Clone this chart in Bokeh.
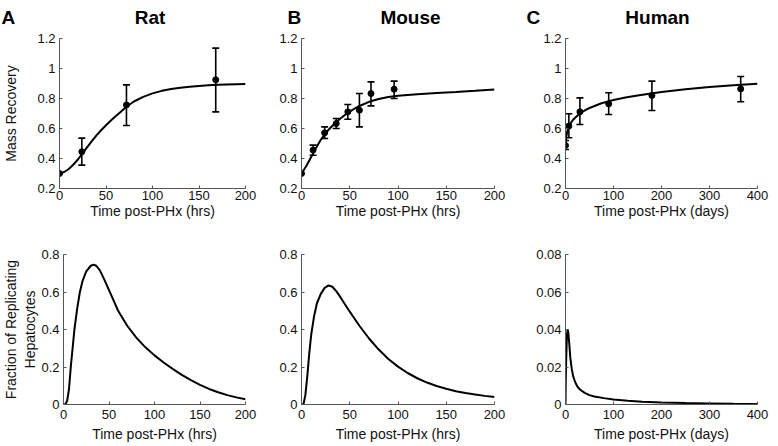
from bokeh.plotting import figure
from bokeh.layouts import column, row
from bokeh.models import Range1d, FixedTicker, Whisker, ColumnDataSource, TeeHead
from bokeh.core.properties import value
from bokeh.embed import file_html
from bokeh.resources import INLINE

# ---------------- data ----------------
# Rat: mass recovery data
rat_t = [0, 24, 72, 168]
rat_mean = [0.30, 0.445, 0.757, 0.925]
rat_low = [0.30, 0.356, 0.62, 0.711]
rat_high = [0.30, 0.536, 0.891, 1.136]
rat_fit_t = [0, 5, 10, 15, 20, 25, 30, 35, 40, 45, 50, 55, 60, 65, 72, 80, 90, 100,
             110, 120, 130, 140, 150, 160, 170, 180, 190, 200]
rat_fit_y = [0.30, 0.31, 0.33, 0.36, 0.395, 0.436, 0.478, 0.518, 0.556, 0.59, 0.622, 0.652,
             0.68, 0.707, 0.745, 0.78, 0.811, 0.834, 0.851, 0.863, 0.872, 0.879, 0.884,
             0.888, 0.891, 0.893, 0.895, 0.897]
# Rat: fraction of replicating hepatocytes
rat_rep_t = [0, 2, 4, 6, 8, 10, 12, 15, 18, 21, 25, 30, 33, 36, 40, 45, 50, 55, 60, 70,
             80, 90, 100, 110, 120, 130, 140, 150, 160, 170, 180, 190, 200]
rat_rep_y = [0.0, 0.0, 0.02, 0.08, 0.2, 0.3, 0.4, 0.51, 0.6, 0.66, 0.71, 0.74, 0.745, 0.74,
             0.715, 0.665, 0.61, 0.555, 0.5, 0.42, 0.357, 0.305, 0.262, 0.224, 0.19, 0.158,
             0.13, 0.105, 0.083, 0.065, 0.05, 0.038, 0.028]

# Mouse: mass recovery data
mouse_t = [0, 12, 24, 36, 48, 60, 72, 96]
mouse_mean = [0.30, 0.456, 0.571, 0.633, 0.711, 0.722, 0.833, 0.862]
mouse_low = [0.30, 0.422, 0.533, 0.60, 0.662, 0.611, 0.751, 0.80]
mouse_high = [0.30, 0.489, 0.611, 0.667, 0.76, 0.833, 0.911, 0.916]
mouse_fit_t = [0, 5, 10, 15, 20, 25, 30, 35, 40, 45, 50, 55, 60, 70, 80, 90, 100, 120,
               140, 160, 180, 200]
mouse_fit_y = [0.30, 0.35, 0.41, 0.47, 0.525, 0.57, 0.605, 0.637, 0.665, 0.69, 0.713, 0.733,
               0.75, 0.778, 0.797, 0.81, 0.818, 0.828, 0.836, 0.843, 0.851, 0.86]
# Mouse: fraction of replicating hepatocytes
mouse_rep_t = [0, 2, 4, 6, 8, 10, 13, 16, 20, 24, 28, 32, 36, 40, 50, 60, 70, 80, 90, 100,
               110, 120, 130, 140, 150, 160, 170, 180, 190, 200]
mouse_rep_y = [0.0, 0.0, 0.05, 0.15, 0.27, 0.37, 0.47, 0.54, 0.59, 0.622, 0.635, 0.628, 0.605,
               0.575, 0.495, 0.42, 0.352, 0.293, 0.243, 0.202, 0.168, 0.14, 0.117, 0.099,
               0.084, 0.071, 0.061, 0.053, 0.046, 0.04]

# Human: mass recovery data
human_t = [0, 7, 30, 90, 180, 365]
human_mean = [0.487, 0.616, 0.711, 0.764, 0.82, 0.864]
human_low = [0.46, 0.538, 0.627, 0.693, 0.72, 0.778]
human_high = [0.52, 0.698, 0.804, 0.838, 0.916, 0.947]
human_fit_t = [0, 1, 2, 4, 6, 8, 10, 15, 20, 30, 40, 50, 75, 100, 125, 150, 200, 250, 300,
               350, 400]
human_fit_y = [0.48, 0.52, 0.55, 0.585, 0.605, 0.62, 0.632, 0.655, 0.672, 0.70, 0.72, 0.737,
               0.768, 0.79, 0.806, 0.82, 0.843, 0.862, 0.877, 0.889, 0.898]
# Human: fraction of replicating hepatocytes
human_rep_t = [0, 0.5, 1.5, 3, 4.5, 6, 8, 10, 13, 16, 20, 25, 30, 40, 50, 60, 80, 100, 130,
               160, 200, 250, 300, 350, 400]
human_rep_y = [0.0, 0.012, 0.025, 0.037, 0.04, 0.038, 0.032, 0.025, 0.019, 0.015, 0.012,
               0.0095, 0.008, 0.0062, 0.005, 0.0043, 0.0034, 0.0027, 0.002, 0.0015, 0.0011,
               0.0008, 0.0006, 0.0004, 0.0003]

titles = ["Rat", "Mouse", "Human"]
panel_letters = ["A", "B", "C"]
xlabels = ["Time post-PHx (hrs)", "Time post-PHx (hrs)", "Time post-PHx (days)"]
ylabel_top = "Mass Recovery"
ylabel_bottom = "Fraction of Replicating\nHepatocytes"
x_ticks_hrs = [0, 50, 100, 150, 200]
x_ticks_days = [0, 100, 200, 300, 400]
y_ticks_top = [0.2, 0.4, 0.6, 0.8, 1.0, 1.2]
y_ticks_bot = [0, 0.2, 0.4, 0.6, 0.8]
y_ticks_bot_h = [0, 0.02, 0.04, 0.06, 0.08]

FONT = "Liberation Sans"
AXC = "#555555"
TXT = "#111111"

# layout geometry (page pixels)
PAGE_W = 770
HEADER_H = 28
col_w = [257, 249, 264]
col_bl = [54, 44, 59]
col_br = [12, 12, 13]
row_h = [198, 220]
row_bt = [10, 28]
row_bb = [38, 42]
# header text anchors (baseline, measured up from header bottom)
letter_x = [1, 287, 526]
letter_y = [10.6, 10.6, 10.6]
title_x = [149.5, 410, 657]
title_y = [10.6, 10.6, 10.6]


def fmt(v):
    return "%g" % v


def make_fig(ci, ri, xmax, ymin, ymax, xticks, yticks):
    p = figure(width=col_w[ci], height=row_h[ri], output_backend="svg", title=None,
               toolbar_location=None, tools="",
               x_range=Range1d(0, xmax), y_range=Range1d(ymin, ymax),
               min_border_left=col_bl[ci], min_border_right=col_br[ci],
               min_border_top=row_bt[ri], min_border_bottom=row_bb[ri])
    p.outline_line_color = None
    p.xgrid.grid_line_color = None
    p.ygrid.grid_line_color = None
    for ax in (p.xaxis[0], p.yaxis[0]):
        ax.axis_line_color = AXC
        ax.axis_line_width = 1
        ax.major_tick_line_color = AXC
        ax.major_tick_in = 3
        ax.major_tick_out = 0
        ax.minor_tick_line_color = None
        ax.major_label_text_font = FONT
        ax.major_label_text_font_size = "13px"
        ax.major_label_text_color = TXT
        ax.axis_label_text_font = FONT
        ax.axis_label_text_font_size = "14px"
        ax.axis_label_text_font_style = "normal"
        ax.axis_label_text_color = TXT
    p.xaxis.ticker = FixedTicker(ticks=xticks)
    p.yaxis.ticker = FixedTicker(ticks=yticks)
    p.xaxis.major_label_overrides = {t: fmt(t) for t in xticks}
    p.yaxis.major_label_overrides = {t: fmt(t) for t in yticks}
    p.yaxis.major_label_standoff = 4
    p.xaxis.axis_label = xlabels[ci]
    if ri == 0:
        p.xaxis.major_label_standoff = 2
        p.xaxis.axis_label_standoff = 0
    else:
        p.xaxis.major_label_standoff = 5
        p.xaxis.axis_label_standoff = 4
    return p


def add_mass(p, t, mean, low, high, fit_t, fit_y):
    p.line(fit_t, fit_y, line_color="black", line_width=2)
    src = ColumnDataSource(dict(t=t, lo=low, hi=high))
    p.add_layout(Whisker(source=src, base="t", lower="lo", upper="hi",
                         line_color="black", line_width=1.6,
                         upper_head=TeeHead(size=7, line_color="black", line_width=1.6),
                         lower_head=TeeHead(size=7, line_color="black", line_width=1.6)))
    p.scatter(t, mean, size=6, fill_color="black", line_color="black")


# header with panel letters and titles
header = figure(width=PAGE_W, height=HEADER_H, output_backend="svg", title=None,
                toolbar_location=None, tools="",
                x_range=Range1d(0, PAGE_W), y_range=Range1d(0, HEADER_H),
                x_axis_type=None, y_axis_type=None, min_border=0)
header.outline_line_color = None
header.text(x=letter_x, y=letter_y, text=panel_letters, text_font=value(FONT),
            text_font_size="19px", text_font_style="bold", text_align="left",
            text_baseline="alphabetic", text_color="black")
header.text(x=title_x, y=title_y, text=titles, text_font=value(FONT),
            text_font_size="19px", text_font_style="bold", text_align="center",
            text_baseline="alphabetic", text_color="black")

mass_sets = [
    (rat_t, rat_mean, rat_low, rat_high, rat_fit_t, rat_fit_y),
    (mouse_t, mouse_mean, mouse_low, mouse_high, mouse_fit_t, mouse_fit_y),
    (human_t, human_mean, human_low, human_high, human_fit_t, human_fit_y),
]
rep_sets = [(rat_rep_t, rat_rep_y), (mouse_rep_t, mouse_rep_y), (human_rep_t, human_rep_y)]
xmaxes = [200, 200, 400]
xtick_sets = [x_ticks_hrs, x_ticks_hrs, x_ticks_days]

top_figs, bot_figs = [], []
for ci in range(3):
    p = make_fig(ci, 0, xmaxes[ci], 0.2, 1.2, xtick_sets[ci], y_ticks_top)
    add_mass(p, *mass_sets[ci])
    if ci == 0:
        p.yaxis.axis_label = ylabel_top
        p.yaxis.axis_label_standoff = 15
    top_figs.append(p)

    ymax = 0.08 if ci == 2 else 0.8
    yt = y_ticks_bot_h if ci == 2 else y_ticks_bot
    q = make_fig(ci, 1, xmaxes[ci], 0, ymax, xtick_sets[ci], yt)
    q.line(rep_sets[ci][0], rep_sets[ci][1], line_color="black", line_width=2)
    if ci == 0:
        q.yaxis.axis_label = ylabel_bottom
        q.yaxis.axis_label_standoff = 0
    bot_figs.append(q)

layout = column(header, row(*top_figs), row(*bot_figs))
open("out.html", "w").write(file_html(layout, INLINE))
